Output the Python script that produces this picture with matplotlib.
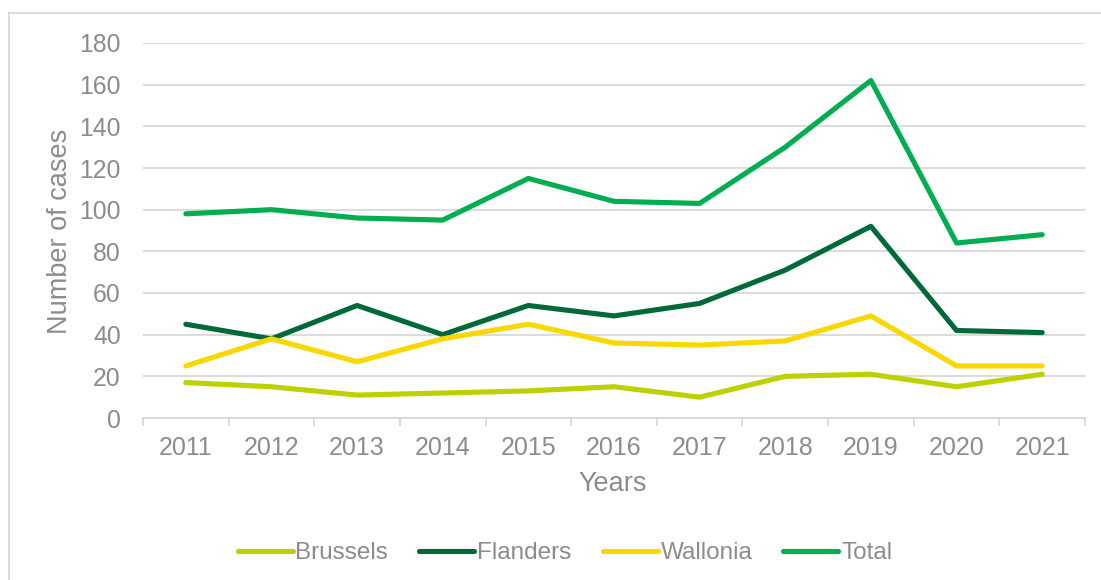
import matplotlib
matplotlib.use("Agg")
import matplotlib.pyplot as plt
from matplotlib.lines import Line2D

plt.rcParams['font.family'] = ['Liberation Sans', 'DejaVu Sans']

years = ["2011", "2012", "2013", "2014", "2015", "2016", "2017", "2018", "2019", "2020", "2021"]
brussels = [17, 15, 11, 12, 13, 15, 10, 20, 21, 15, 21]
flanders = [45, 38, 54, 40, 54, 49, 55, 71, 92, 42, 41]
wallonia = [25, 38, 27, 38, 45, 36, 35, 37, 49, 25, 25]
total = [98, 100, 96, 95, 115, 104, 103, 130, 162, 84, 88]

series = [("Brussels", brussels, "#BDD100"),
          ("Flanders", flanders, "#00693A"),
          ("Wallonia", wallonia, "#FBD700"),
          ("Total", total, "#00AD50")]

W, H = 1101, 580
fig = plt.figure(figsize=(W / 100, H / 100), dpi=100)
ax = fig.add_axes([143 / W, 1 - 418 / H, (1085 - 143) / W, (418 - 43) / H])

txt = "#8C8C8C"
grid = "#D9D9D9"
x = list(range(len(years)))
for name, vals, col in series:
    ax.plot(x, vals, color=col, lw=3.7, solid_capstyle='round', solid_joinstyle='round', label=name)

ax.set_xlim(-0.5, len(years) - 0.5)
ax.set_ylim(0, 180)
ax.set_yticks(range(0, 181, 20))
ax.yaxis.grid(True, color=grid, lw=1.3)
ax.set_axisbelow(True)
for s in ["top", "right", "left"]:
    ax.spines[s].set_visible(False)
ax.spines["bottom"].set_color(grid)
ax.spines["bottom"].set_linewidth(1.3)

ax.set_xticks(x)
ax.set_xticklabels(years)
ax.tick_params(axis='x', length=0, pad=13, labelsize=18, labelcolor=txt)
ax.set_xticks([i - 0.5 for i in range(len(years) + 1)], minor=True)
ax.tick_params(axis='x', which='minor', length=6, color=grid, width=1.3)
ax.tick_params(axis='y', length=0, pad=16, labelsize=17.8, labelcolor=txt)

fig.text(613 / W, 1 - 484 / H, "Years", ha='center', va='center', fontsize=19.5, color=txt)
fig.text(60 / W, 1 - 231 / H, "Number of cases", ha='center', va='center', rotation=90, fontsize=19.5, color=txt)

leg = fig.legend(loc='center', bbox_to_anchor=(565 / W, 1 - 553 / H), ncol=4, frameon=False,
                 fontsize=17.5, handlelength=2.26, handletextpad=0.12, columnspacing=1.28)
for t in leg.get_texts():
    t.set_color(txt)

fig.add_artist(Line2D([9 / W, 9 / W], [0, 1 - 13 / H], color=grid, lw=1.3, transform=fig.transFigure))
fig.add_artist(Line2D([9 / W, 1.01], [1 - 13 / H, 1 - 13 / H], color=grid, lw=1.3, transform=fig.transFigure))

fig.savefig("out.png", dpi=100)
